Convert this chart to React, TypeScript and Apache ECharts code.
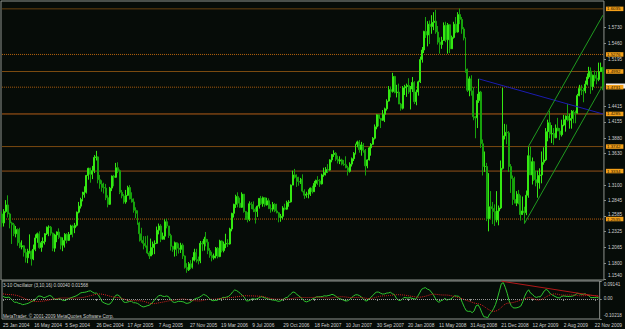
import React, { useEffect, useRef } from 'react';
import * as echarts from 'echarts';

// Weekly EURUSD bars [open, high, low, close], first bar = week of 25 Jan 2004
const bars2004: number[][] = [
  [1.2620,1.2660,1.2400,1.2470],[1.2470,1.2700,1.2410,1.2660],[1.2660,1.2850,1.2640,1.2770],[1.2770,1.2930,1.2560,1.2620],
  [1.2620,1.2640,1.2380,1.2470],[1.2470,1.2490,1.2120,1.2440],[1.2440,1.2470,1.2250,1.2290],[1.2290,1.2420,1.2230,1.2360],
  [1.2360,1.2380,1.2090,1.2140],[1.2140,1.2390,1.2050,1.2070],[1.2070,1.2180,1.2030,1.2090],[1.2090,1.2100,1.1910,1.1980],
  [1.1980,1.2040,1.1810,1.1890],[1.1890,1.2040,1.1800,1.1980],[1.1980,1.2280,1.1960,1.2000],[1.2000,1.2010,1.1760,1.1870],
  [1.1870,1.2110,1.1850,1.2030],[1.2030,1.2280,1.2000,1.2220],[1.2220,1.2310,1.2140,1.2290],[1.2290,1.2330,1.2040,1.2060],
  [1.2060,1.2170,1.1990,1.2140],[1.2140,1.2230,1.2060,1.2160],[1.2160,1.2300,1.2110,1.2290],[1.2290,1.2410,1.2270,1.2400],
  [1.2400,1.2430,1.2250,1.2400],[1.2400,1.2420,1.2260,1.2300],[1.2300,1.2310,1.2000,1.2050],[1.2050,1.2290,1.1990,1.2270],
  [1.2270,1.2330,1.2150,1.2320],[1.2320,1.2380,1.2200,1.2230],[1.2230,1.2240,1.2030,1.2100],[1.2100,1.2230,1.2000,1.2180],
  [1.2180,1.2300,1.2060,1.2280],[1.2280,1.2300,1.2130,1.2180],[1.2180,1.2320,1.2170,1.2280],[1.2280,1.2440,1.2270,1.2420],
  [1.2420,1.2440,1.2230,1.2390],[1.2390,1.2470,1.2300,1.2430],[1.2430,1.2660,1.2410,1.2650],[1.2650,1.2820,1.2630,1.2750],
  [1.2750,1.2890,1.2710,1.2860],[1.2860,1.2990,1.2830,1.2940],[1.2940,1.3080,1.2890,1.2980],[1.2980,1.3270,1.2960,1.3260],
  [1.3260,1.3390,1.3190,1.3380],[1.3380,1.3390,1.3140,1.3280],[1.3280,1.3420,1.3200,1.3340],[1.3340,1.3600,1.3300,1.3560],
  [1.3560,1.3670,1.3510,1.3570],
];
const bars2005: number[][] = [
  [1.3570,1.3580,1.3130,1.3190],[1.3190,1.3270,1.3040,1.3120],[1.3120,1.3180,1.2990,1.3060],[1.3060,1.3140,1.2960,1.3050],
  [1.3050,1.3120,1.2850,1.2890],[1.2890,1.2930,1.2730,1.2780],[1.2780,1.3070,1.2770,1.3050],[1.3050,1.3260,1.3000,1.3250],
  [1.3250,1.3270,1.3080,1.3230],[1.3230,1.3470,1.3220,1.3390],[1.3390,1.3480,1.3300,1.3340],[1.3340,1.3360,1.2950,1.2980],
  [1.2980,1.3020,1.2880,1.2920],[1.2920,1.2950,1.2790,1.2820],[1.2820,1.3020,1.2790,1.2930],[1.2930,1.3090,1.2920,1.3060],
  [1.3060,1.3100,1.2860,1.2870],[1.2870,1.2980,1.2810,1.2820],[1.2820,1.2880,1.2640,1.2680],[1.2680,1.2730,1.2550,1.2630],
  [1.2630,1.2680,1.2440,1.2470],[1.2470,1.2490,1.2160,1.2290],[1.2290,1.2390,1.2140,1.2180],[1.2180,1.2250,1.2030,1.2130],
  [1.2130,1.2250,1.2060,1.2090],[1.2090,1.2260,1.1950,1.1970],[1.1970,1.2000,1.1870,1.1920],[1.1920,1.2210,1.1930,1.2060],
  [1.2060,1.2160,1.1940,1.2120],[1.2120,1.2180,1.1950,1.2130],[1.2130,1.2410,1.2120,1.2350],[1.2350,1.2460,1.2280,1.2420],
  [1.2420,1.2450,1.2150,1.2200],[1.2200,1.2310,1.2190,1.2250],[1.2250,1.2530,1.2190,1.2490],[1.2490,1.2540,1.2380,1.2420],
  [1.2420,1.2420,1.2220,1.2260],[1.2260,1.2290,1.2010,1.2080],[1.2080,1.2090,1.1990,1.2030],[1.2030,1.2160,1.1910,1.2140],
  [1.2140,1.2150,1.1920,1.2050],[1.2050,1.2130,1.1960,1.2030],[1.2030,1.2140,1.1970,1.2100],[1.2100,1.2130,1.1870,1.1920],
  [1.1920,1.1930,1.1710,1.1730],[1.1730,1.1800,1.1640,1.1690],[1.1690,1.1820,1.1670,1.1790],[1.1790,1.1850,1.1700,1.1730],
  [1.1730,1.1900,1.1710,1.1850],[1.1850,1.2040,1.1830,1.1980],[1.1980,1.2040,1.1810,1.1860],[1.1860,1.1910,1.1780,1.1840],
];
const bars2006: number[][] = [
  [1.1840,1.2170,1.1800,1.2130],[1.2130,1.2170,1.2000,1.2120],[1.2120,1.2240,1.2010,1.2200],[1.2200,1.2320,1.2080,1.2150],
  [1.2150,1.2200,1.1950,1.2010],[1.2010,1.2050,1.1890,1.1930],[1.1930,1.1990,1.1830,1.1890],[1.1890,1.1960,1.1860,1.1920],
  [1.1920,1.2070,1.1880,1.2050],[1.2050,1.2070,1.1880,1.1910],[1.1910,1.2190,1.1900,1.2170],[1.2170,1.2180,1.1980,1.2010],
  [1.2010,1.2160,1.1980,1.2120],[1.2120,1.2290,1.2050,1.2130],[1.2130,1.2200,1.2070,1.2120],[1.2120,1.2390,1.2110,1.2370],
  [1.2370,1.2640,1.2330,1.2630],[1.2630,1.2790,1.2560,1.2780],[1.2780,1.2940,1.2720,1.2910],[1.2910,1.2980,1.2730,1.2800],
  [1.2800,1.2890,1.2720,1.2730],[1.2730,1.2980,1.2720,1.2950],[1.2950,1.2950,1.2640,1.2660],[1.2660,1.2670,1.2520,1.2600],
  [1.2600,1.2650,1.2480,1.2530],[1.2530,1.2830,1.2500,1.2790],[1.2790,1.2820,1.2700,1.2780],[1.2780,1.2830,1.2650,1.2700],
  [1.2700,1.2730,1.2460,1.2660],[1.2660,1.2760,1.2570,1.2750],[1.2750,1.2880,1.2710,1.2880],[1.2880,1.2920,1.2770,1.2790],
  [1.2790,1.2910,1.2740,1.2890],[1.2890,1.2900,1.2740,1.2770],[1.2770,1.2890,1.2760,1.2840],[1.2840,1.2880,1.2700,1.2710],
  [1.2710,1.2780,1.2640,1.2700],[1.2700,1.2820,1.2660,1.2780],[1.2780,1.2800,1.2650,1.2670],[1.2670,1.2790,1.2630,1.2640],
  [1.2640,1.2650,1.2480,1.2560],[1.2560,1.2620,1.2490,1.2580],[1.2580,1.2750,1.2530,1.2720],[1.2720,1.2790,1.2680,1.2700],
  [1.2700,1.2840,1.2690,1.2810],[1.2810,1.2850,1.2740,1.2820],[1.2820,1.3110,1.2810,1.3100],[1.3100,1.3340,1.3100,1.3270],
  [1.3270,1.3370,1.3210,1.3230],[1.3230,1.3280,1.3070,1.3160],[1.3160,1.3240,1.3090,1.3150],[1.3150,1.3220,1.3120,1.3200],
];
const bars2007: number[][] = [
  [1.3200,1.3280,1.2980,1.3000],[1.3000,1.3030,1.2870,1.2930],[1.2930,1.2990,1.2890,1.2950],[1.2950,1.3030,1.2880,1.2950],
  [1.2950,1.3060,1.2920,1.3050],[1.3050,1.3090,1.2960,1.2990],[1.2990,1.3170,1.2990,1.3130],[1.3130,1.3190,1.3070,1.3180],
  [1.3180,1.3250,1.3100,1.3170],[1.3170,1.3200,1.3070,1.3120],[1.3120,1.3290,1.3110,1.3270],[1.3270,1.3390,1.3240,1.3310],
  [1.3310,1.3400,1.3260,1.3360],[1.3360,1.3450,1.3300,1.3350],[1.3350,1.3530,1.3340,1.3520],[1.3520,1.3620,1.3480,1.3610],
  [1.3610,1.3680,1.3570,1.3630],[1.3630,1.3650,1.3500,1.3530],[1.3530,1.3590,1.3460,1.3500],[1.3500,1.3580,1.3450,1.3520],
  [1.3520,1.3540,1.3430,1.3450],[1.3450,1.3520,1.3420,1.3440],[1.3440,1.3580,1.3380,1.3390],[1.3390,1.3420,1.3260,1.3330],
  [1.3330,1.3480,1.3310,1.3450],[1.3450,1.3560,1.3410,1.3540],[1.3540,1.3650,1.3500,1.3630],[1.3630,1.3790,1.3610,1.3780],
  [1.3780,1.3840,1.3730,1.3820],[1.3820,1.3850,1.3640,1.3690],[1.3690,1.3820,1.3590,1.3770],[1.3770,1.3800,1.3640,1.3680],
  [1.3680,1.3700,1.3260,1.3420],[1.3420,1.3530,1.3380,1.3520],[1.3520,1.3740,1.3510,1.3720],[1.3720,1.3800,1.3590,1.3780],
  [1.3780,1.3900,1.3770,1.3880],[1.3880,1.4110,1.3860,1.4070],[1.4070,1.4280,1.4030,1.4270],[1.4270,1.4280,1.4080,1.4210],
  [1.4210,1.4220,1.4050,1.4180],[1.4180,1.4350,1.4170,1.4280],[1.4280,1.4390,1.4150,1.4370],[1.4370,1.4530,1.4340,1.4500],
  [1.4500,1.4750,1.4490,1.4690],[1.4690,1.4740,1.4560,1.4660],[1.4660,1.4970,1.4640,1.4910],[1.4910,1.4920,1.4630,1.4640],
  [1.4640,1.4770,1.4560,1.4650],[1.4650,1.4790,1.4450,1.4450],[1.4450,1.4470,1.4340,1.4380],[1.4380,1.4750,1.4360,1.4720],
];
const bars2008: number[][] = [
  [1.4720,1.4770,1.4600,1.4740],[1.4740,1.4790,1.4570,1.4760],[1.4760,1.4880,1.4620,1.4650],[1.4650,1.4750,1.4360,1.4700],
  [1.4700,1.4900,1.4650,1.4810],[1.4810,1.4830,1.4450,1.4490],[1.4490,1.4690,1.4430,1.4650],[1.4650,1.4840,1.4590,1.4820],
  [1.4820,1.5240,1.4800,1.5190],[1.5190,1.5400,1.5140,1.5350],[1.5350,1.5670,1.5300,1.5660],[1.5660,1.5900,1.5550,1.5600],
  [1.5600,1.5830,1.5410,1.5780],[1.5780,1.5840,1.5450,1.5740],[1.5740,1.5930,1.5620,1.5810],[1.5810,1.5980,1.5680,1.5830],
  [1.5830,1.6020,1.5620,1.5650],[1.5650,1.5750,1.5440,1.5480],[1.5480,1.5560,1.5290,1.5440],[1.5440,1.5570,1.5370,1.5510],
  [1.5510,1.5810,1.5500,1.5760],[1.5760,1.5820,1.5480,1.5520],[1.5520,1.5800,1.5290,1.5770],[1.5770,1.5780,1.5300,1.5370],
  [1.5370,1.5590,1.5370,1.5560],[1.5560,1.5820,1.5540,1.5780],[1.5780,1.5900,1.5630,1.5650],[1.5650,1.5980,1.5640,1.5940],
  [1.5940,1.6040,1.5780,1.5860],[1.5860,1.5900,1.5620,1.5700],[1.5700,1.5730,1.5510,1.5550],[1.5550,1.5560,1.4970,1.5030],
  [1.5030,1.5040,1.4650,1.4680],[1.4680,1.4910,1.4580,1.4870],[1.4870,1.4930,1.4590,1.4670],[1.4670,1.4730,1.4180,1.4240],
  [1.4240,1.4250,1.3880,1.4220],[1.4220,1.4620,1.4050,1.4510],[1.4510,1.4870,1.4470,1.4650],[1.4650,1.4670,1.3720,1.3790],
  [1.3790,1.3860,1.3260,1.3410],[1.3410,1.3660,1.3320,1.3410],[1.3410,1.3470,1.2500,1.2540],[1.2540,1.3300,1.2330,1.2740],
  [1.2740,1.3000,1.2540,1.2710],[1.2710,1.2820,1.2450,1.2660],[1.2660,1.2780,1.2420,1.2520],[1.2520,1.3000,1.2480,1.2670],
  [1.2670,1.2760,1.2430,1.2720],[1.2720,1.3510,1.2700,1.3380],[1.3380,1.4720,1.3360,1.3920],[1.3920,1.4120,1.3860,1.3980],
  [1.3980,1.4110,1.3780,1.3970],
];
const bars2009: number[][] = [
  [1.3970,1.4000,1.3320,1.3410],[1.3410,1.3450,1.2970,1.3210],[1.3210,1.3260,1.2770,1.2860],[1.2860,1.3240,1.2800,1.2800],
  [1.2800,1.3000,1.2750,1.2950],[1.2950,1.3020,1.2780,1.2870],[1.2870,1.2930,1.2510,1.2610],[1.2610,1.2910,1.2620,1.2670],
  [1.2670,1.2740,1.2460,1.2640],[1.2640,1.3010,1.2600,1.2930],[1.2930,1.3740,1.2890,1.3590],[1.3590,1.3740,1.3290,1.3270],
  [1.3270,1.3560,1.3110,1.3490],[1.3490,1.3500,1.3170,1.3190],[1.3190,1.3340,1.3080,1.3140],[1.3140,1.3340,1.2890,1.3260],
  [1.3260,1.3380,1.3040,1.3270],[1.3270,1.3660,1.3130,1.3480],[1.3480,1.3730,1.3440,1.3520],[1.3520,1.4050,1.3500,1.3990],
  [1.3990,1.4190,1.3830,1.4140],[1.4140,1.4340,1.3880,1.3950],[1.3950,1.4100,1.3800,1.3960],[1.3960,1.4050,1.3770,1.3890],
  [1.3890,1.4110,1.3880,1.4050],[1.4050,1.4220,1.4000,1.4000],[1.4000,1.4050,1.3850,1.3940],[1.3940,1.4190,1.3910,1.4100],
  [1.4100,1.4270,1.4080,1.4190],[1.4190,1.4260,1.3990,1.4250],[1.4250,1.4450,1.4160,1.4180],[1.4180,1.4290,1.4040,1.4210],
  [1.4210,1.4350,1.4040,1.4330],[1.4330,1.4350,1.4130,1.4310],[1.4310,1.4340,1.4130,1.4300],[1.4300,1.4620,1.4290,1.4590],
  [1.4590,1.4770,1.4580,1.4710],[1.4710,1.4770,1.4600,1.4680],[1.4680,1.4720,1.4480,1.4670],[1.4670,1.4840,1.4630,1.4780],
  [1.4780,1.4960,1.4760,1.4900],[1.4900,1.5070,1.4870,1.5000],[1.5000,1.5060,1.4620,1.4740],[1.4740,1.4940,1.4680,1.4930],
  [1.4930,1.5010,1.4830,1.4880],[1.4880,1.5000,1.4780,1.4860],[1.4860,1.5140,1.4830,1.4990],[1.4990,1.5140,1.4990,1.5060],
  [1.5060,1.5070,1.4680,1.4740],
];
// weekly closes before the first visible bar (needed by the 3-10 oscillator and its 16 signal)
const closesBefore: number[] = [1.1300,1.1040,1.0880,1.1120,1.1240,1.1430,1.1560,1.1640,1.1780,1.1640,1.1730,1.1560,
  1.1530,1.1700,1.1760,1.1990,1.2200,1.2290,1.2390,1.2430,1.2580,1.2760,1.2620,1.2620];

const firstWeek = '25 Jan 2004';
const dateTicks = ['25 Jan 2004','16 May 2004','5 Sep 2004','26 Dec 2004','17 Apr 2005','7 Aug 2005','27 Nov 2005',
  '19 Mar 2006','9 Jul 2006','29 Oct 2006','18 Feb 2007','10 Jun 2007','30 Sep 2007','20 Jan 2008','11 May 2008',
  '31 Aug 2008','21 Dec 2008','12 Apr 2009','2 Aug 2009','22 Nov 2009'];
const priceTicks = [1.5730,1.5460,1.5195,1.4415,1.4155,1.3880,1.3630,1.3100,1.2845,1.2585,1.2325,1.2065,1.1800,1.1540];
const levels = [1.6035,1.5276,1.4992,1.4731,1.4285,1.3742,1.3334,1.2535];
const levelLabels = ['1.6035','1.5276','1.4992','1.4731','1.4285','1.3742','1.3334','1.2535'];
const lastPrice = 1.4750;
const oscTicks = [0.09141, 0, -0.10218];
const oscTickLabels = ['0.09141', '0.00', '-0.10218'];
// drawn objects: [date, price]
const blueLine = [['21 Sep 2008', 1.4867], ['6 Dec 2009', 1.4285]];
const channelLow = [['1 Mar 2009', 1.2460], ['6 Dec 2009', 1.4770]];
const channelHigh = [['15 Mar 2009', 1.3740], ['6 Dec 2009', 1.5930]];
const oscTrend = [['21 Dec 2008', 0.0905], ['6 Dec 2009', 0.0130]];

const levelStyles = [
  { color: '#6a4210', type: 'solid' }, { color: '#b8650f', type: 'dotted' }, { color: '#7a4a10', type: 'solid' },
  { color: '#a8590f', type: 'dotted' }, { color: '#b25c18', type: 'solid' }, { color: '#7a4a10', type: 'solid' },
  { color: '#94521a', type: 'solid' }, { color: '#b85e10', type: 'dotted' },
];

const MONTHS = ['Jan','Feb','Mar','Apr','May','Jun','Jul','Aug','Sep','Oct','Nov','Dec'];
const FONT = 'Liberation Sans, Arial, sans-serif';

export default function App() {
  const ref = useRef<HTMLDivElement>(null);
  useEffect(() => {
    document.body.style.margin = '0';
    const bars = [...bars2004, ...bars2005, ...bars2006, ...bars2007, ...bars2008, ...bars2009];
    const p = firstWeek.split(' ');
    const t0 = Date.UTC(+p[2], MONTHS.indexOf(p[1]), +p[0]);
    const cats = bars.map((_, i) => {
      const d = new Date(t0 + i * 7 * 86400000);
      return `${d.getUTCDate()} ${MONTHS[d.getUTCMonth()]} ${d.getUTCFullYear()}`;
    });
    const last = cats.length - 1;
    const candle = bars.map(b => [b[0], b[3], b[2], b[1]]);
    const allC = [...closesBefore, ...bars.map(b => b[3])];
    const mean = (a: number[], s: number, e: number) => { let t = 0; for (let k = s; k <= e; k++) t += a[k]; return t / (e - s + 1); };
    const oscAll = allC.map((_, k) => (k >= 9 ? mean(allC, k - 2, k) - mean(allC, k - 9, k) : NaN));
    const sigAll = oscAll.map((_, k) => (k >= 24 ? mean(oscAll, k - 15, k) : NaN));
    const off = closesBefore.length;
    const osc = oscAll.slice(off);
    const sig = sigAll.slice(off);

    const chart = echarts.init(ref.current!, null, { renderer: 'svg' });
    const tickFn = (_: number, v: string) => dateTicks.includes(v);
    const boxLabel = {
      show: true, distance: 3, backgroundColor: '#f4a11a',
      color: '#1a1000', fontSize: 4.4, padding: [0.5, 3, 0, 1], fontFamily: FONT,
    };
    // a horizontal level: a line series through the first and the last bar at the level's price
    const hSeries = (v: number, color: string, type: string, label: any, z: number) => ({
      type: 'line', xAxisIndex: 0, yAxisIndex: 0, z, silent: true,
      data: cats.map((_, i) => (i === 0 || i === last ? v : null)),
      connectNulls: true, showSymbol: false, symbol: 'none',
      lineStyle: { color, type, width: 1 },
      endLabel: label,
    });
    const levelSeries = levels.map((v, k) =>
      hSeries(v, levelStyles[k].color, levelStyles[k].type, { ...boxLabel, formatter: levelLabels[k] }, 2));
    const segSeries = (pts: any[], color: string, xi: number) => ({
      type: 'line', xAxisIndex: xi, yAxisIndex: xi, data: [], z: 4,
      markLine: {
        silent: true, symbol: ['none', 'none'], animation: false,
        lineStyle: { color, width: 1, type: 'solid' }, label: { show: false },
        data: [[{ coord: pts[0] }, { coord: pts[1] }]],
      },
    });
    const txt = { fontSize: 4.6, color: '#d0d0d0', fontFamily: FONT };
    chart.setOption({
      animation: false,
      backgroundColor: '#060c08',
      textStyle: { fontFamily: FONT },
      grid: [
        { left: 1, top: 1, width: 605, height: 279, show: true, borderColor: '#8d928d', borderWidth: 1 },
        { left: 1, top: 281, width: 605, height: 38, show: true, borderColor: '#8d928d', borderWidth: 1 },
      ],
      xAxis: [
        { type: 'category', gridIndex: 0, data: cats, axisLine: { show: false }, axisTick: { show: false }, axisLabel: { show: false } },
        {
          type: 'category', gridIndex: 1, data: cats, axisLine: { show: false },
          axisTick: { show: true, interval: tickFn, alignWithLabel: true, length: 2, lineStyle: { color: '#8d928d' } },
          axisLabel: { interval: tickFn, align: 'left', fontSize: 4.8, color: '#d0d0d0', margin: 3.5, fontFamily: FONT },
        },
      ],
      yAxis: [
        {
          type: 'value', gridIndex: 0, position: 'right', min: 1.152, max: 1.6166,
          splitLine: { show: false }, axisLine: { show: false },
          axisTick: { show: true, customValues: priceTicks, length: 2, lineStyle: { color: '#8d928d' } },
          axisLabel: {
            customValues: priceTicks, ...txt, margin: 4,
            formatter: (v: number) => {
              const s = v.toFixed(4);
              if (s === '1.1540') return `{lo|${s}}`;
              if (s === '1.2585') return `{up|${s}}`;
              return s;
            },
            rich: { lo: { ...txt, padding: [0, 0, 6, 0] }, up: { ...txt, padding: [0, 0, 3, 0] } },
          },
        },
        {
          type: 'value', gridIndex: 1, position: 'right', min: -0.10218, max: 0.09141,
          splitLine: { show: false }, axisLine: { show: false },
          axisTick: { show: true, customValues: oscTicks, length: 2, lineStyle: { color: '#8d928d' } },
          axisLabel: {
            customValues: oscTicks, ...txt, margin: 4,
            formatter: (v: number) => {
              const k = oscTicks.findIndex(t => Math.abs(t - v) < 1e-6);
              return k === 0 ? `{hi|${oscTickLabels[k]}}` : k === 2 ? `{lo|${oscTickLabels[k]}}` : oscTickLabels[k] ?? '';
            },
            rich: { hi: { ...txt, padding: [6, 0, 0, 0] }, lo: { ...txt, padding: [0, 0, 7, 0] } },
          },
        },
      ],
      series: [
        {
          type: 'candlestick', xAxisIndex: 0, yAxisIndex: 0, data: candle, barWidth: '75%', z: 3,
          itemStyle: { color: '#3cff10', color0: '#6f8a14', borderColor: '#34e812', borderColor0: '#17a20c', borderWidth: 1 },
        },
        hSeries(lastPrice, 'rgba(0,0,0,0)', 'solid', { ...boxLabel, formatter: ' ', backgroundColor: '#f0f0f0', padding: [1, 9, 0, 9] }, 1),
        ...levelSeries,
        segSeries(blueLine, '#1c1cb0', 0),
        segSeries(channelLow, '#1f9a1f', 0),
        segSeries(channelHigh, '#1f9a1f', 0),
        {
          type: 'line', xAxisIndex: 1, yAxisIndex: 1, data: [], z: 1,
          markLine: {
            silent: true, symbol: ['none', 'none'], animation: false,
            lineStyle: { color: '#9a9a9a', type: 'dotted', width: 1 }, label: { show: false },
            data: [[{ coord: [0, 0] }, { coord: [last, 0] }]],
          },
        },
        {
          type: 'line', xAxisIndex: 1, yAxisIndex: 1, data: osc, showSymbol: false, symbol: 'none', z: 3,
          lineStyle: { color: '#2fc62f', width: 1 },
        },
        {
          type: 'line', xAxisIndex: 1, yAxisIndex: 1, data: sig, showSymbol: false, symbol: 'none', z: 3,
          lineStyle: { color: '#d42020', width: 1, type: 'dotted' },
        },
        segSeries(oscTrend, '#b01818', 1),
      ],
      graphic: [
        { type: 'text', left: 3, top: 283, style: { text: '3-10 Oscillator (3,10,16) 0.00040 0.01568', fill: '#d0d0d0', fontSize: 4.6, fontFamily: FONT } },
        { type: 'text', left: 3, top: 314, style: { text: 'MetaTrader, © 2001-2009 MetaQuotes Software Corp.', fill: '#d0d0d0', fontSize: 4.6, fontFamily: FONT } },
      ],
    });
    return () => chart.dispose();
  }, []);
  return <div ref={ref} style={{ position: 'absolute', left: 0, top: 0, width: 625, height: 329 }} />;
}
